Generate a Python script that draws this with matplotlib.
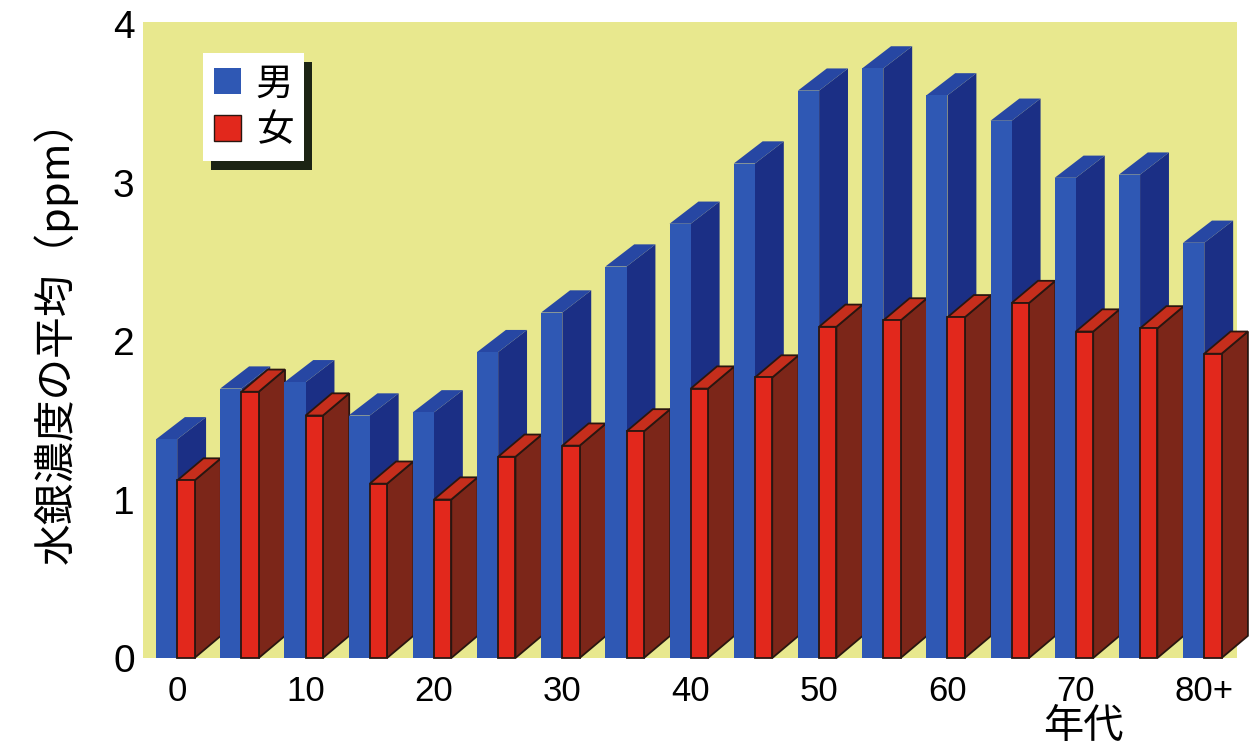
import matplotlib
matplotlib.use("Agg")
import matplotlib.pyplot as plt
from matplotlib.patches import Polygon, Patch, Rectangle

plt.rcParams['font.family'] = ['Liberation Sans', 'Noto Sans CJK JP', 'DejaVu Sans']

# 年代 (5-year steps), mean mercury concentration in hair (ppm)
ages = ["0", "5", "10", "15", "20", "25", "30", "35", "40",
        "45", "50", "55", "60", "65", "70", "75", "80+"]
male = [1.38, 1.70, 1.74, 1.53, 1.55, 1.93, 2.18, 2.47, 2.74,
        3.12, 3.58, 3.72, 3.55, 3.39, 3.03, 3.05, 2.62]
female = [1.12, 1.68, 1.53, 1.10, 1.00, 1.27, 1.34, 1.43, 1.70,
          1.77, 2.09, 2.13, 2.15, 2.24, 2.06, 2.08, 1.92]
tick_labels = ["0", "10", "20", "30", "40", "50", "60", "70", "80+"]
y_ticks = [0, 1, 2, 3, 4]

# colours
yellow = "#e8e88e"
blue_front, blue_side, blue_top = "#2f58b4", "#1b2f85", "#2747a3"
red_front, red_side, red_top = "#e2281c", "#7c2619", "#c62e1c"
edge = "#2a1610"

# bar geometry (x in group units, depth offset dy in ppm)
bw, rw = 0.33, 0.27
bdx, rdx, dy = 0.45, 0.41, 0.14


def bar3d(ax, x0, w, h, dx, cf, cs, ct, ec, lw):
    x1 = x0 + w
    side = Polygon([(x1, 0), (x1 + dx, dy), (x1 + dx, h + dy), (x1, h)],
                   closed=True, fc=cs, ec=ec, lw=lw, clip_on=False)
    top = Polygon([(x0, h), (x1, h), (x1 + dx, h + dy), (x0 + dx, h + dy)],
                  closed=True, fc=ct, ec=ec, lw=lw, clip_on=False)
    front = Rectangle((x0, 0), w, h, fc=cf, ec=ec, lw=lw, clip_on=False)
    for p in (side, top, front):
        ax.add_patch(p)


fig = plt.figure(figsize=(12.54, 7.49), dpi=100)
ax = fig.add_axes([143 / 1254, 1 - 658 / 749, 1094 / 1254, 636 / 749])
ax.set_facecolor(yellow)

for i in range(len(ages)):
    bar3d(ax, i, bw, male[i], bdx, blue_front, blue_side, blue_top, "none", 0)
    bar3d(ax, i + bw, rw, female[i], rdx, red_front, red_side, red_top, edge, 1.3)

ax.set_xlim(-0.2025, 16.84)
ax.set_ylim(0, 4.013)
for s in ax.spines.values():
    s.set_visible(False)

ax.set_yticks(y_ticks)
ax.set_yticklabels([str(t) for t in y_ticks], fontsize=28)
ax.set_xticks([i + bw for i in range(0, len(ages), 2)])
ax.set_xticklabels(tick_labels, fontsize=25)
ax.tick_params(axis="both", length=0)
ax.tick_params(axis="y", pad=6)
ax.tick_params(axis="x", pad=12)

fig.text(55 / 1254, 1 - 332 / 749, "水銀濃度の平均（ppm）", rotation=90,
         ha="center", va="center", fontsize=30,
         family=['Noto Sans CJK JP', 'DejaVu Sans'])
fig.text(1083 / 1254, 1 - 726 / 749, "年代", ha="center", va="center",
         fontsize=29, family=['Noto Sans CJK JP', 'DejaVu Sans'])

handles = [Patch(fc=blue_front, ec="none", label="男"),
           Patch(fc=red_front, ec=edge, lw=1, label="女")]
leg = ax.legend(handles=handles, loc="upper left",
                bbox_to_anchor=(0.055, 0.951), borderaxespad=0,
                handlelength=0.7, handleheight=0.7,
                handletextpad=0.4, labelspacing=0.2, borderpad=0.3,
                fancybox=False, framealpha=1, edgecolor="none",
                prop={'family': ['Noto Sans CJK JP'], 'size': 27})
leg.set_zorder(10)

# dark drop shadow behind the legend box
fig.canvas.draw()
bb = leg.get_window_extent().transformed(fig.transFigure.inverted())
shadow = Rectangle((bb.x0 + 8 / 1254, bb.y0 - 9 / 749), bb.width, bb.height,
                   transform=fig.transFigure, fc="#1c2414", ec="none", zorder=9)
ax.add_artist(shadow)
shadow.set_clip_on(False)

fig.savefig("out.png", dpi=100)
